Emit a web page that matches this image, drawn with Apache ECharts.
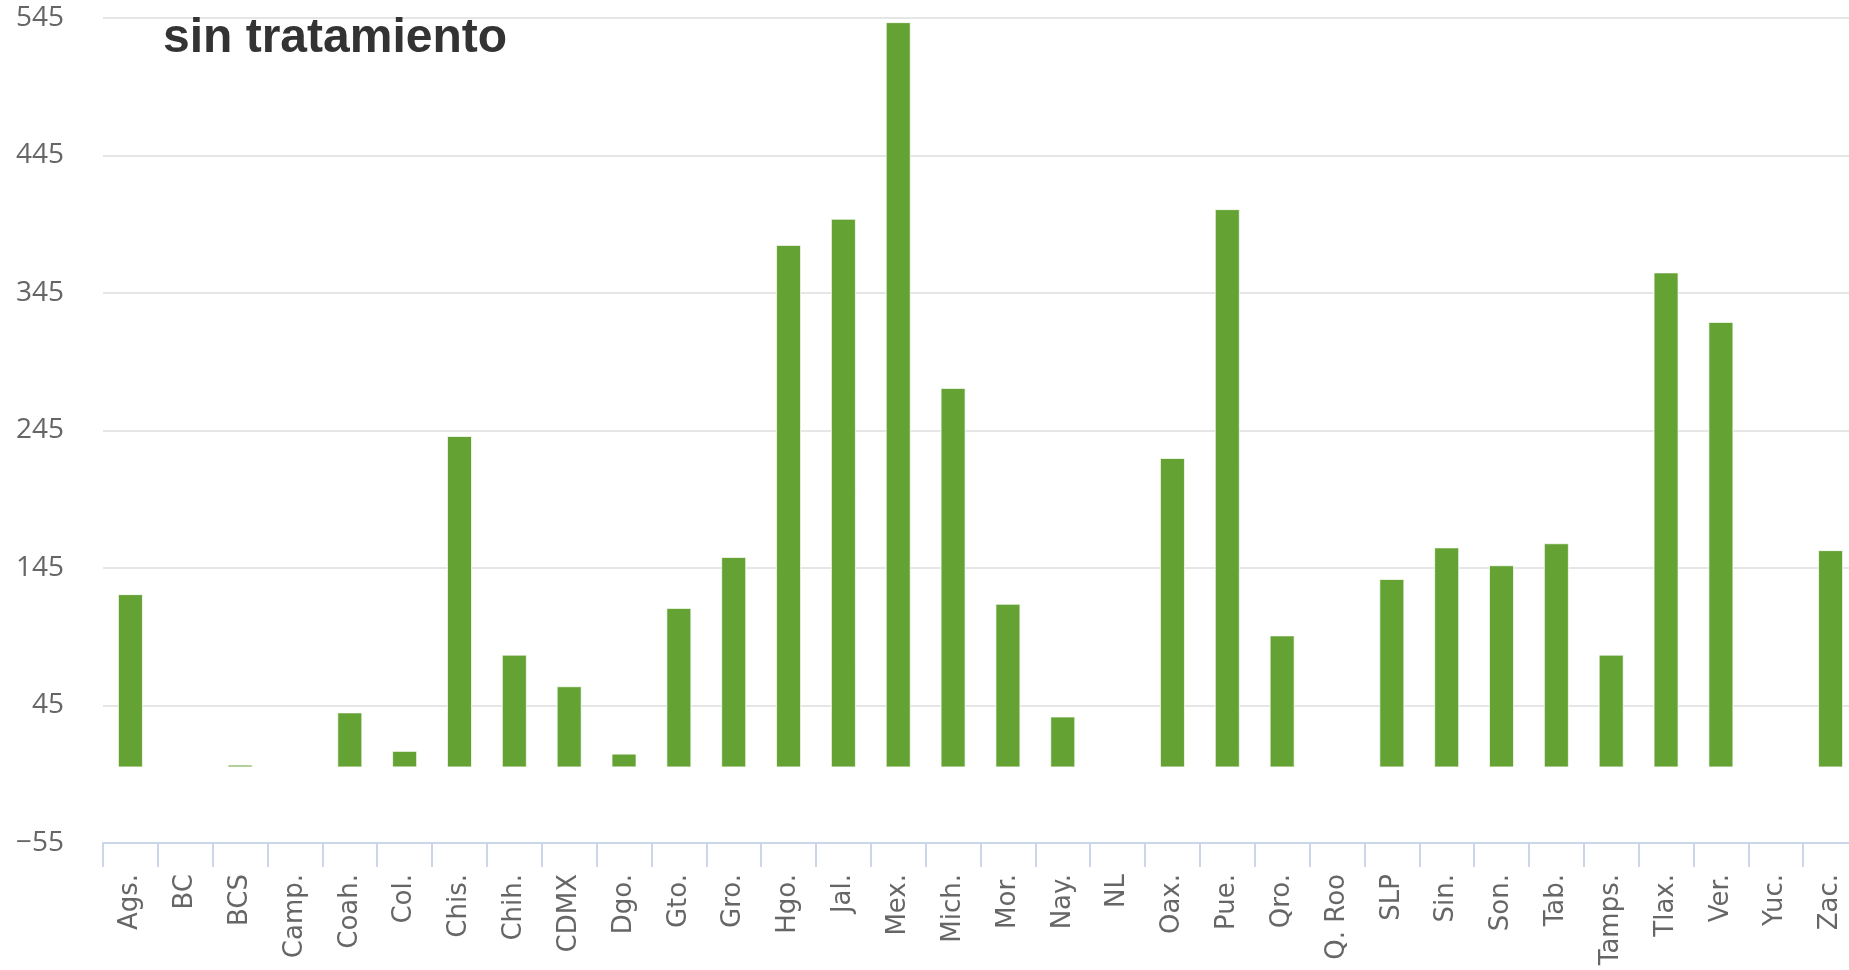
<!DOCTYPE html>
<html>
<head>
<meta charset="utf-8">
<script src="https://cdn.jsdelivr.net/npm/echarts@6/dist/echarts.min.js"></script>
<style>
  html, body { margin: 0; padding: 0; background: #fff; overflow: hidden; }
  #chart { width: 1880px; height: 970px; }
</style>
</head>
<body>
<div id="chart"></div>
<script>
const titleText = 'sin tratamiento';
const categories = ['Ags.', 'BC', 'BCS', 'Camp.', 'Coah.', 'Col.', 'Chis.', 'Chih.', 'CDMX', 'Dgo.',
  'Gto.', 'Gro.', 'Hgo.', 'Jal.', 'Mex.', 'Mich.', 'Mor.', 'Nay.', 'NL', 'Oax.', 'Pue.', 'Qro.',
  'Q. Roo', 'SLP', 'Sin.', 'Son.', 'Tab.', 'Tamps.', 'Tlax.', 'Ver.', 'Yuc.', 'Zac.'];
const values = [126, 0, 2, 0, 40, 12, 241, 82, 59, 10,
  116, 153, 380, 399, 542, 276, 119, 37, 0, 225, 406, 96,
  0, 137, 160, 147, 163, 82, 360, 324, 0, 158];
const yMin = -55;
const yMax = 545;
const yStep = 100;

const chart = echarts.init(document.getElementById('chart'), null, { renderer: 'canvas' });
chart.setOption({
  animation: false,
  backgroundColor: '#ffffff',
  title: {
    text: titleText,
    left: 158,
    top: 10,
    textStyle: {
      fontFamily: 'Liberation Sans',
      fontWeight: 'bold',
      fontSize: 48,
      color: '#333333'
    }
  },
  grid: { left: 103, width: 1755, top: 18, bottom: 127 },
  xAxis: {
    type: 'category',
    data: categories,
    boundaryGap: true,
    axisLine: { show: true, onZero: false, lineStyle: { color: '#ccd6eb', width: 2 } },
    axisTick: { show: true, length: 24, lineStyle: { color: '#ccd6eb', width: 2 } },
    axisLabel: {
      rotate: 90,
      interval: 0,
      margin: 31,
      fontFamily: 'DejaVu Sans',
      fontSize: 26,
      color: '#666666'
    },
    splitLine: { show: false }
  },
  yAxis: {
    type: 'value',
    min: yMin,
    max: yMax,
    interval: yStep,
    axisLine: { show: false },
    axisTick: { show: false },
    axisLabel: {
      margin: 39,
      fontFamily: 'Open Sans',
      fontSize: 28,
      color: '#666666',
      formatter: function (v) { return String(v).replace('-', '\u2212'); }
    },
    splitLine: { show: true, lineStyle: { color: '#e6e6e6', width: 2 } }
  },
  series: [{
    type: 'bar',
    data: values,
    barWidth: 25,
    itemStyle: { color: '#64a233', borderColor: 'rgba(255,255,255,0.7)', borderWidth: 1 }
  }]
});
</script>
</body>
</html>
